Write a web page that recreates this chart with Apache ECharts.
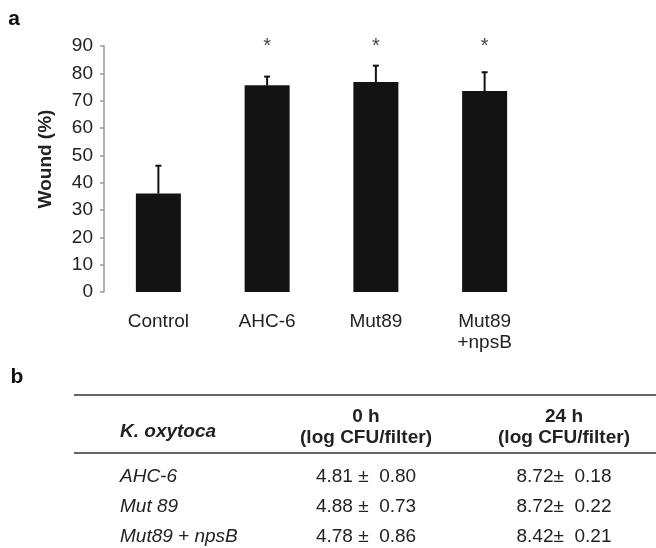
<!DOCTYPE html>
<html><head><meta charset="utf-8">
<script src="https://cdn.jsdelivr.net/npm/echarts@6/dist/echarts.min.js"></script>
<style>html,body{margin:0;padding:0;background:#fff}#c{width:656px;height:548px}</style>
</head><body><div id="c"></div>
<script>
// ---- Panel a data ----
const categories = ['Control', 'AHC-6', 'Mut89', 'Mut89\n+npsB'];
const woundMean = [36.0, 75.6, 76.8, 73.5];
const woundErr = [10.2, 3.2, 6.0, 6.9];
const significance = ['', '*', '*', '*'];
const yMin = 0, yMax = 90, yInterval = 10;
const starLevel = 90;

// ---- Panel b (table) data ----
const tableHeaders = ['K. oxytoca', '0 h', '24 h'];
const tableSubHeader = '(log CFU/filter)';
const strains = ['AHC-6', 'Mut 89', 'Mut89 + npsB'];
const cfu0Mean = ['4.81', '4.88', '4.78'];
const cfu0Sd = ['0.80', '0.73', '0.86'];
const cfu24Mean = ['8.72', '8.72', '8.42'];
const cfu24Sd = ['0.18', '0.22', '0.21'];

const FONT = 'Liberation Sans, Arial, Helvetica, sans-serif';
const TXT = '#222';

const chart = echarts.init(document.getElementById('c'), null, {renderer: 'canvas'});

// panel letters, axis title and table graphics
const g = [];
g.push({type: 'text', x: 14, y: 19, style: {text: 'a', font: 'bold 21px ' + FONT, fill: '#111', align: 'center', verticalAlign: 'middle'}});
g.push({type: 'text', x: 17, y: 377, style: {text: 'b', font: 'bold 21px ' + FONT, fill: '#111', align: 'center', verticalAlign: 'middle'}});
g.push({type: 'text', x: 46, y: 159, rotation: Math.PI / 2,
  style: {text: 'Wound (%)', font: 'bold 19px ' + FONT, fill: TXT, align: 'center', verticalAlign: 'middle'}});
g.push({type: 'line', shape: {x1: 74, y1: 395, x2: 656, y2: 395}, style: {stroke: '#666', lineWidth: 2}});
g.push({type: 'line', shape: {x1: 74, y1: 453, x2: 656, y2: 453}, style: {stroke: '#666', lineWidth: 2}});
const col0 = 120, colX = [366, 564];
g.push({type: 'text', x: col0, y: 432, style: {text: tableHeaders[0], font: 'italic bold 19px ' + FONT, fill: TXT, align: 'left', verticalAlign: 'middle'}});
[1, 2].forEach((k) => {
  g.push({type: 'text', x: colX[k - 1], y: 417, style: {text: tableHeaders[k], font: 'bold 19px ' + FONT, fill: TXT, align: 'center', verticalAlign: 'middle'}});
  g.push({type: 'text', x: colX[k - 1], y: 438, style: {text: tableSubHeader, font: 'bold 19px ' + FONT, fill: TXT, align: 'center', verticalAlign: 'middle'}});
});
const rowY = [477, 507, 537];
strains.forEach((s, i) => {
  g.push({type: 'text', x: col0, y: rowY[i], style: {text: s, font: 'italic 19px ' + FONT, fill: TXT, align: 'left', verticalAlign: 'middle'}});
  g.push({type: 'text', x: colX[0], y: rowY[i], style: {text: cfu0Mean[i] + ' \u00b1  ' + cfu0Sd[i], font: '19px ' + FONT, fill: TXT, align: 'center', verticalAlign: 'middle'}});
  g.push({type: 'text', x: colX[1], y: rowY[i], style: {text: cfu24Mean[i] + '\u00b1  ' + cfu24Sd[i], font: '19px ' + FONT, fill: TXT, align: 'center', verticalAlign: 'middle'}});
});

chart.setOption({
  animation: false,
  backgroundColor: '#fff',
  textStyle: {fontFamily: FONT},
  grid: {left: 104, right: 117, top: 46, bottom: 256},
  xAxis: {
    type: 'category', data: categories,
    axisLine: {show: false}, axisTick: {show: false},
    axisLabel: {fontSize: 19, lineHeight: 21, color: TXT, margin: 19, fontFamily: FONT}
  },
  yAxis: {
    type: 'value', min: yMin, max: yMax, interval: yInterval,
    axisLine: {show: true, lineStyle: {color: '#999', width: 1.5}},
    axisTick: {show: true, length: 4, lineStyle: {color: '#999', width: 1.5}},
    splitLine: {show: false},
    axisLabel: {fontSize: 19, color: TXT, margin: 11, fontFamily: FONT}
  },
  series: [
    {type: 'bar', data: woundMean, barWidth: 45, itemStyle: {color: '#131313'}, z: 2},
    {type: 'custom', z: 3,
      data: woundMean.map((m, i) => [i, m, woundErr[i]]),
      renderItem: function (params, api) {
        const base = api.coord([api.value(0), api.value(1)]);
        const top = api.coord([api.value(0), api.value(1) + api.value(2)]);
        const st = {stroke: '#111', lineWidth: 2};
        return {type: 'group', children: [
          {type: 'line', shape: {x1: base[0], y1: base[1], x2: top[0], y2: top[1]}, style: st},
          {type: 'line', shape: {x1: top[0] - 3, y1: top[1], x2: top[0] + 3, y2: top[1]}, style: st}
        ]};
      }
    },
    {type: 'scatter', z: 4, symbolSize: 0, clip: false,
      data: significance.map((s, i) => [i, starLevel]),
      label: {show: true, position: 'inside', fontSize: 20, color: '#111', fontFamily: FONT,
        formatter: (p) => significance[p.dataIndex]}
    }
  ],
  graphic: g
});
</script>
</body></html>
